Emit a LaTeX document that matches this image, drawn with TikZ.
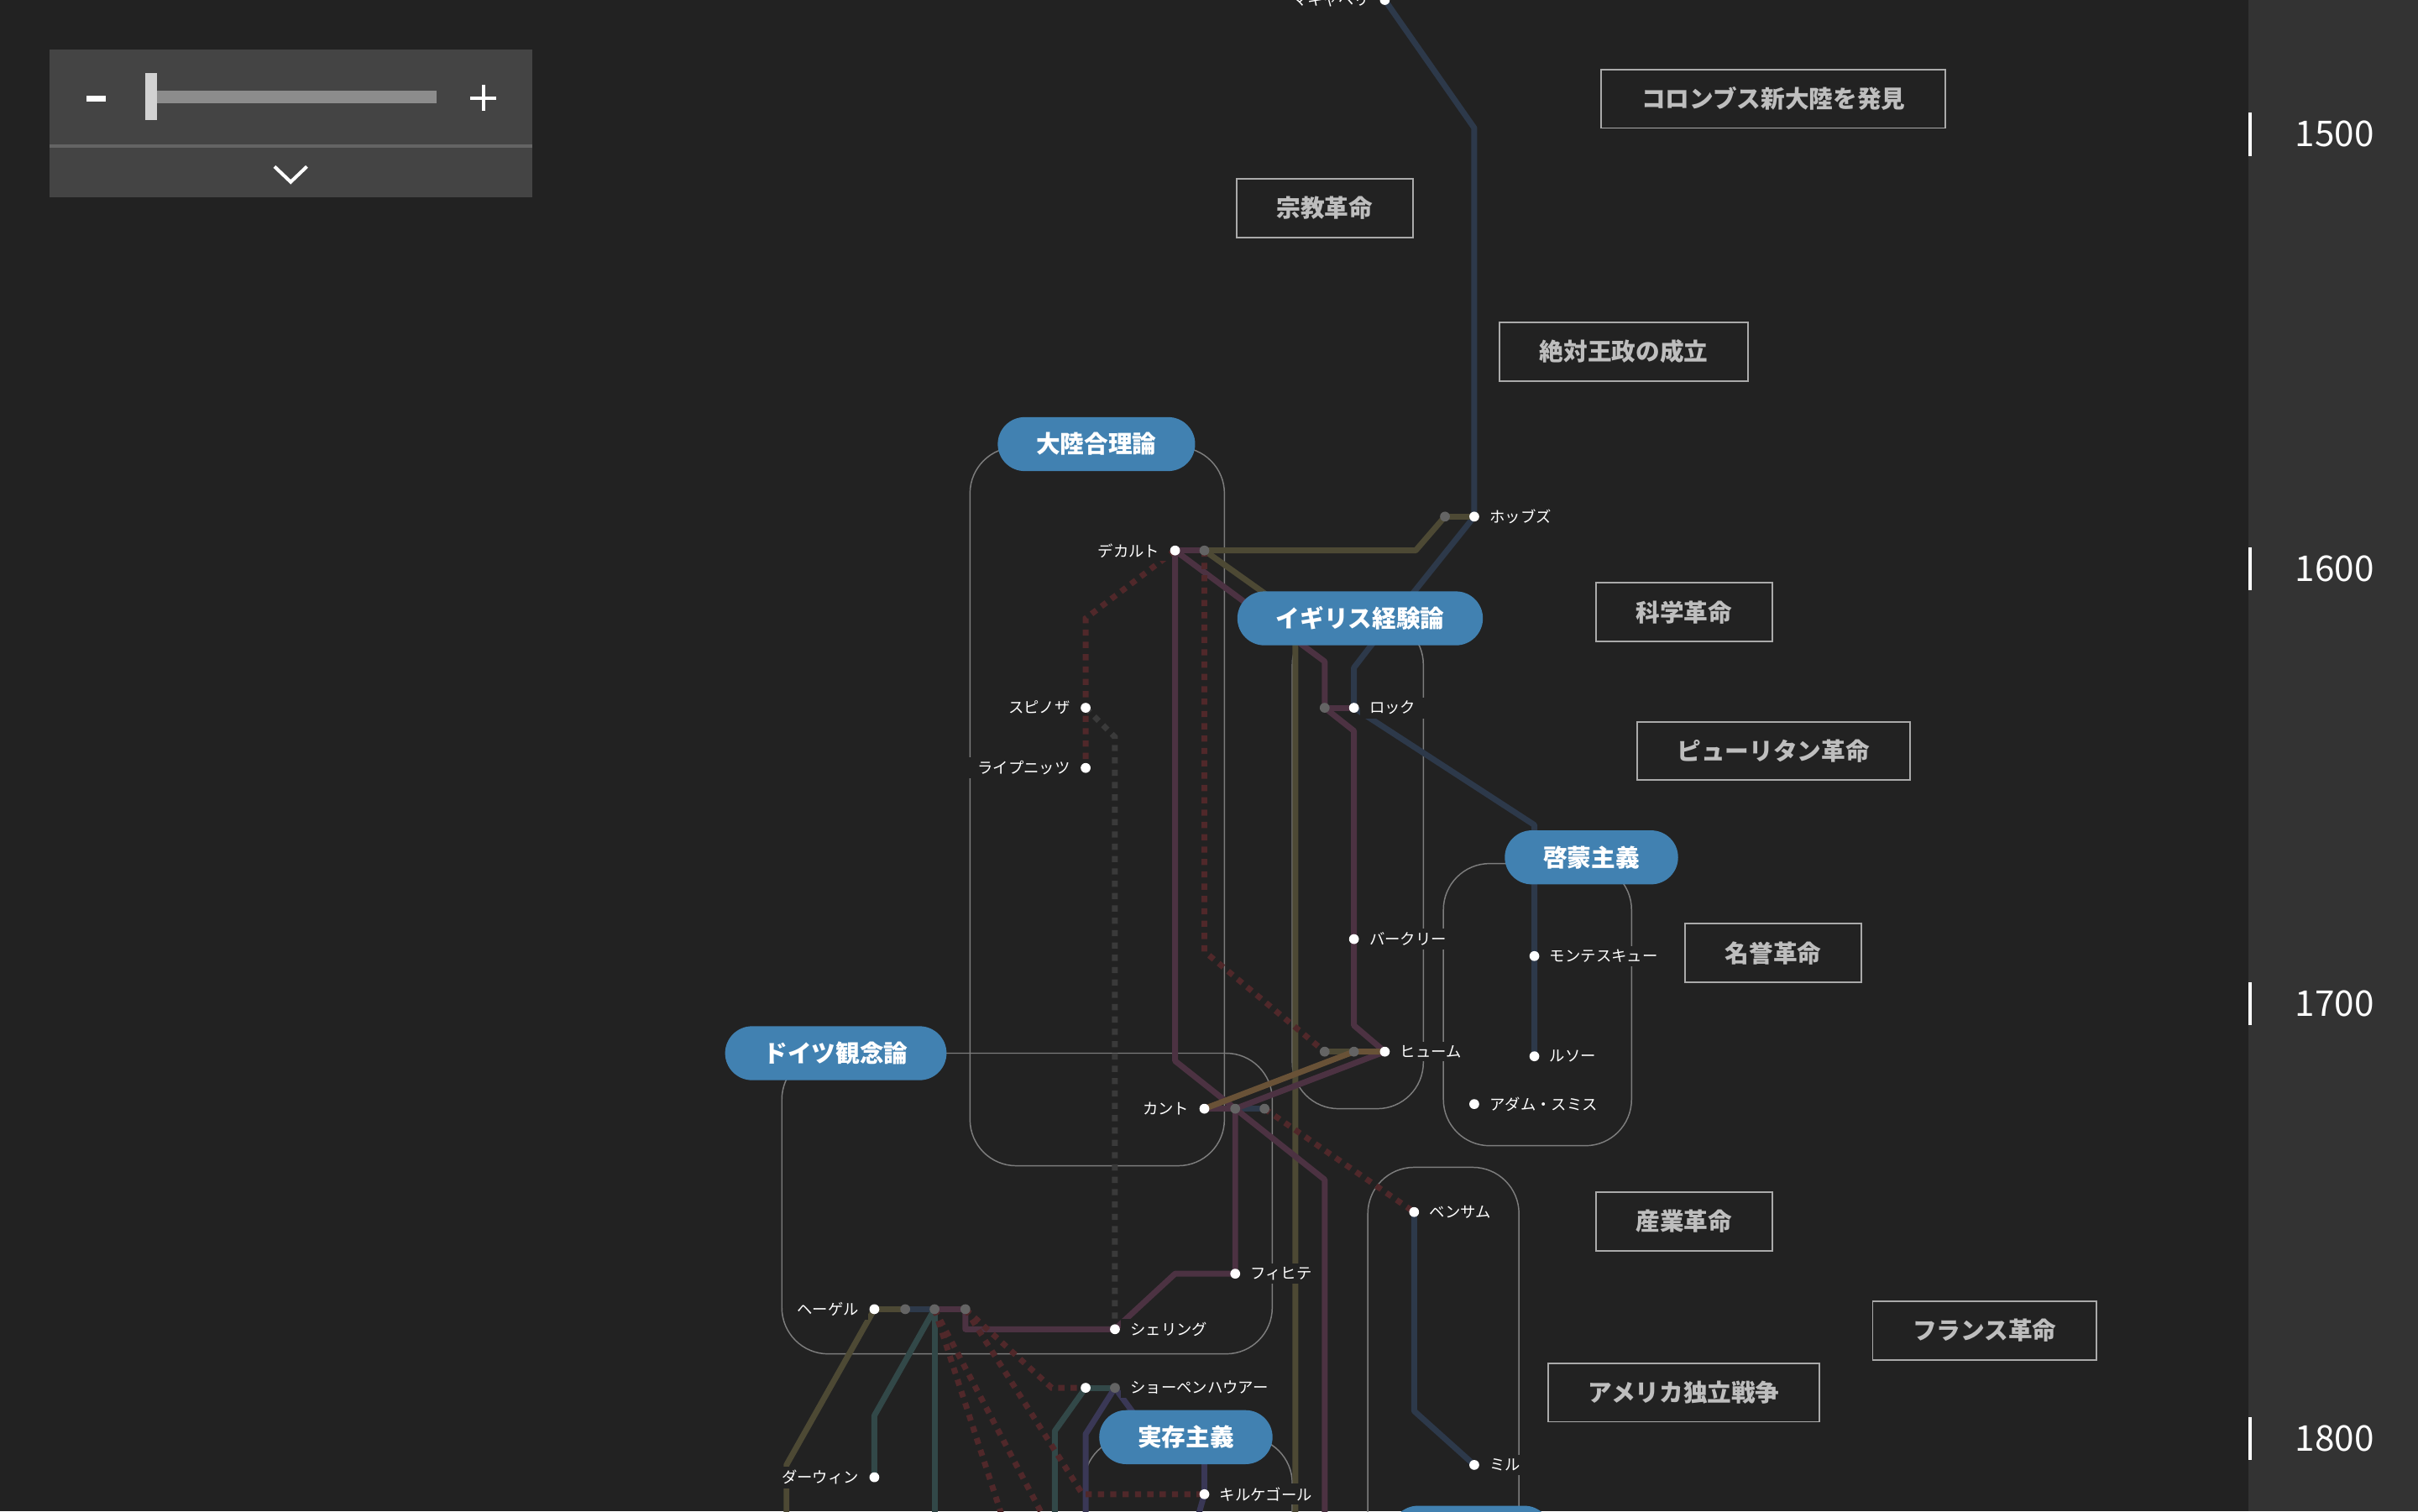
\documentclass[tikz,border=0pt]{standalone}
\usepackage{fontspec}
\setmainfont{Noto Sans CJK JP}
\pgfdeclarelayer{backdrop}
\pgfdeclarelayer{frames}
\pgfdeclarelayer{lines}
\pgfsetlayers{backdrop,frames,lines,main}

\begin{document}
\begin{tikzpicture}[x=0.5pt,y=-0.5pt,
  stn/.style={circle,fill=white,inner sep=0pt,minimum size=3.2pt},
  xfer/.style={circle,fill=xfergray,inner sep=0pt,minimum size=3.2pt},
  lbl/.style={font=\fontsize{5}{6}\selectfont,text=white,fill=bgdark,inner xsep=3pt,inner ysep=1.2pt},
  pill/.style={fill=pillblue,rounded corners=8.75pt,minimum height=17.5pt,inner xsep=12.5pt,text=white,font=\fontsize{7.8}{9}\selectfont\bfseries},
  event/.style={draw=evline,line width=0.5pt,fill=bgdark,minimum height=19pt,inner xsep=13pt,text=evtext,font=\fontsize{7.8}{9}\selectfont\bfseries},
  group/.style={draw=frameline,line width=0.4pt,rounded corners=15pt},
  metro/.style={line width=1.9pt,line join=round},
  dotline/.style={line width=1.9pt,dash pattern=on 2pt off 2pt},
  year/.style={text=white,font=\fontsize{11.5}{13}\selectfont},
  yeartick/.style={white,line width=1pt}
]
% Define colours
\definecolor{bgdark}{RGB}{34,34,34}
\definecolor{band}{RGB}{51,51,51}
\definecolor{panel}{RGB}{68,68,68}
\definecolor{pillblue}{RGB}{65,129,177}
\definecolor{evtext}{RGB}{190,190,190}
\definecolor{evline}{RGB}{170,170,170}
\definecolor{frameline}{RGB}{125,125,125}
\definecolor{xfergray}{RGB}{100,100,100}
\definecolor{navy}{RGB}{45,57,74}
\definecolor{olive}{RGB}{77,73,52}
\definecolor{plum}{RGB}{76,50,66}
\definecolor{amber}{RGB}{105,82,55}
\definecolor{teal}{RGB}{50,72,72}
\definecolor{indigo}{RGB}{58,56,86}
\definecolor{dotred}{RGB}{80,40,42}
\definecolor{dotgray}{RGB}{58,58,58}

\useasboundingbox (0,0) rectangle (1568,980);

% Background and time band
\begin{pgfonlayer}{backdrop}
\fill[bgdark] (0,0) rectangle (1568,980);
\fill[band] (1458,0) rectangle (1568,980);
\end{pgfonlayer}

% Zoom widget
\fill[panel] (32,32) rectangle (345,128);
\fill[xfergray] (32,93.6) rectangle (345,95.8);
\fill[white] (56,62) rectangle (68.6,66);
\fill[gray!90] (102,59) rectangle (283,67);
\fill[gray!35] (94,47.5) rectangle (102,78);
\draw[white,line width=1.1pt] (305,63.5) -- (322,63.5) (313.5,55) -- (313.5,72);
\draw[white,line width=1.1pt] (178,108) -- (188.5,118) -- (199,108);

% Years
\foreach \yr [count=\i from 0] in {1500,1600,1700,1800} {
  \node[year] (y\yr) at (1514,{87+282*\i}) {\yr};
  \draw[yeartick] (1459,{73+282*\i}) -- (1459,{101+282*\i});
}

% Events
\node[event] (columbus) at (1150,64) {コロンブス新大陸を発見};
\node[event] (reform) at (859,135) {宗教革命};
\node[event] (absolut) at (1053,228) {絶対王政の成立};
\node[event] (science) at (1092,397) {科学革命};
\node[event] (puritan) at (1150,487) {ピューリタン革命};
\node[event] (glorious) at (1150,618) {名誉革命};
\node[event] (industry) at (1092,792) {産業革命};
\node[event] (french) at (1287,863) {フランス革命};
\node[event] (american) at (1092,903) {アメリカ独立戦争};

% Group frames
\begin{pgfonlayer}{frames}
\draw[group] (629,290) rectangle (794,756);
\draw[group] (838,401) rectangle (923,719);
\draw[group] (936,560) rectangle (1058,743);
\draw[group] (507,683) rectangle (825,878);
\draw[group] (887,757) rectangle (985,1030);
\draw[group] (703,932) rectangle (838,1030);
\end{pgfonlayer}

% Schools
\node[pill] (rational) at (711,288) {大陸合理論};
\node[pill] (empiric) at (882,401) {イギリス経験論};
\node[pill] (enlight) at (1032,556) {啓蒙主義};
\node[pill] (idealism) at (542,683) {ドイツ観念論};
\node[pill] (exist) at (769,932) {実存主義};
\node[pill,minimum width=52pt] (utility) at (954,994) {};

% Philosophers
\node[stn,label={[lbl]left:マキャベリ}] (machia) at (898,0) {};
\node[xfer] (hobbes-x) at (937,335) {};
\node[stn,label={[lbl]right:ホッブズ}] (hobbes) at (956,335) {};
\node[stn,label={[lbl]left:デカルト}] (descart) at (762,357) {};
\node[xfer] (descart-x) at (781,357) {};
\node[stn,label={[lbl]left:スピノザ}] (spinoza) at (704,459) {};
\node[stn,label={[lbl]left:ライプニッツ}] (leibniz) at (704,498) {};
\node[xfer] (locke-x) at (859,459) {};
\node[stn,label={[lbl]right:ロック}] (locke) at (878,459) {};
\node[stn,label={[lbl]right:バークリー}] (berkeley) at (878,609) {};
\node[stn,label={[lbl]right:モンテスキュー}] (montesq) at (995,620) {};
\node[xfer] (hume-x1) at (859,682) {};
\node[xfer] (hume-x2) at (878,682) {};
\node[stn,label={[lbl]right:ヒューム}] (hume) at (898,682) {};
\node[stn,label={[lbl]right:ルソー}] (rousseau) at (995,685) {};
\node[stn,label={[lbl]right:アダム・スミス}] (smith) at (956,716) {};
\node[stn,label={[lbl]left:カント}] (kant) at (781,719) {};
\node[xfer] (kant-x1) at (801,719) {};
\node[xfer] (kant-x2) at (820,719) {};
\node[stn,label={[lbl]right:ベンサム}] (bentham) at (917,786) {};
\node[stn,label={[lbl]right:フィヒテ}] (fichte) at (801,826) {};
\node[stn,label={[lbl]left:ヘーゲル}] (hegel) at (567,849) {};
\node[xfer] (hegel-x1) at (587,849) {};
\node[xfer] (hegel-x2) at (606,849) {};
\node[xfer] (hegel-x3) at (626,849) {};
\node[stn,label={[lbl]right:シェリング}] (schell) at (723,862) {};
\node[stn] (schopen) at (704,900) {};
\node[xfer,label={[lbl]right:ショーペンハウアー}] (schopen-x) at (723,900) {};
\node[stn,label={[lbl]right:ミル}] (mill) at (956,950) {};
\node[stn,label={[lbl]left:ダーウィン}] (darwin) at (567,958) {};
\node[stn,label={[lbl]right:キルケゴール}] (kierke) at (781,969) {};

% Lines of influence
\begin{pgfonlayer}{lines}
% navy
\draw[metro,navy] (machia.center) -- (956,83) -- (hobbes.center);
\draw[metro,navy] (hobbes.center) -- (888,420) -- (878,433) -- (locke.center);
\draw[metro,navy] (locke.center) -- (995,535) -- (montesq.center) -- (rousseau.center);
\draw[metro,navy] (bentham.center) -- (917,915) -- (mill.center);
\draw[metro,navy] (kant-x1.center) -- (kant-x2.center);
\draw[metro,navy] (hegel-x1.center) -- (hegel-x2.center);
% olive
\draw[metro,olive] (hobbes-x.center) -- (hobbes.center);
\draw[metro,olive] (descart-x.center) -- (918,357) -- (hobbes-x.center);
\draw[metro,olive] (descart-x.center) -- (840,399) -- (840,990);
\draw[metro,olive] (hume-x1.center) -- (hume-x2.center);
\draw[metro,olive] (hegel.center) -- (hegel-x1.center);
\draw[metro,olive] (hegel.center) -- (510,950) -- (510,990);
% plum
\draw[metro,plum] (descart.center) -- (descart-x.center);
\draw[metro,plum] (descart.center) -- (859,429) -- (locke-x.center) -- (878,474) -- (878,665) -- (hume.center);
\draw[metro,plum] (locke-x.center) -- (locke.center);
\draw[metro,plum] (descart.center) -- (762,688) -- (859,765) -- (859,990);
\draw[metro,plum] (hume.center) -- (kant-x1.center) -- (fichte.center) -- (762,826) -- (schell.center) -- (626,862) -- (hegel-x3.center);
\draw[metro,plum] (kant.center) -- (kant-x1.center);
\draw[metro,plum] (hegel-x2.center) -- (hegel-x3.center);
% amber
\draw[metro,amber] (kant.center) -- (hume-x2.center) -- (hume.center);
% teal
\draw[metro,teal] (hegel-x2.center) -- (567,918) -- (darwin.center);
\draw[metro,teal] (hegel-x2.center) -- (606,990);
\draw[metro,teal] (schopen.center) -- (schopen-x.center);
\draw[metro,teal] (schopen.center) -- (684,928) -- (684,990);
% indigo
\draw[metro,indigo] (schopen-x.center) -- (704,930) -- (704,990);
\draw[metro,indigo] (schopen-x.center) -- (745,930);
\draw[metro,indigo] (781,940) -- (kierke.center) -- (775,990);
% dotted
\draw[dotline,dotred] (descart.center) -- (704,401) -- (leibniz.center);
\draw[dotline,dotred] (descart-x.center) -- (781,617) -- (hume-x1.center);
\draw[dotline,dotred] (kant-x2.center) -- (bentham.center);
\draw[dotline,dotred] (hegel-x3.center) -- (682,900) -- (schopen.center);
\draw[dotline,dotred] (hegel-x3.center) -- (702,969) -- (kierke.center);
\draw[dotline,dotred] (hegel-x2.center) -- (652,990);
\draw[dotline,dotred] (hegel-x2.center) -- (680,990);
\draw[dotline,dotgray] (spinoza.center) -- (723,478) -- (schell.center);
\end{pgfonlayer}
\end{tikzpicture}
\end{document}
